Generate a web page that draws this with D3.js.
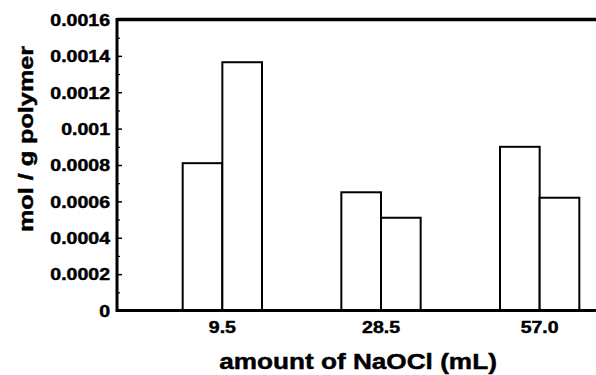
<!DOCTYPE html>
<html>
<head>
<meta charset="utf-8">
<script src="https://cdn.jsdelivr.net/npm/d3@7"></script>
<style>
  html, body { margin: 0; padding: 0; background: #fff; }
  svg { display: block; }
  text { font-family: "Liberation Sans", Arial, Helvetica, sans-serif; font-weight: bold; fill: #000; stroke: #000; stroke-width: 0.45px; }
</style>
</head>
<body>
<script>
// ---- data ----
const categories = ["9.5", "28.5", "57.0"];
const seriesNames = ["first", "second"];
const seriesFirst = [0.00081, 0.00065, 0.00090];
const seriesSecond = [0.001365, 0.00051, 0.00062];
const yTickValues = [0, 0.0002, 0.0004, 0.0006, 0.0008, 0.001, 0.0012, 0.0014, 0.0016];
const yTickLabels = ["0", "0.0002", "0.0004", "0.0006", "0.0008", "0.001", "0.0012", "0.0014", "0.0016"];
const yMinorTicks = [0.0001, 0.0003, 0.0005, 0.0007, 0.0009, 0.0011, 0.0013, 0.0015];
const xTitle = "amount of NaOCl (mL)";
const yTitle = "mol / g polymer";

const W = 596, H = 375;
const plotLeft = 117, plotTop = 19.5, plotBottom = 310.5;

const svg = d3.select("body").append("svg").attr("width", W).attr("height", H);

const y = d3.scaleLinear().domain([0, 0.0016]).range([plotBottom, plotTop]);
const x = d3.scaleBand().domain(categories).range([plotLeft, 645]).paddingInner(0.5).paddingOuter(0.414);
const xs = d3.scaleBand().domain(seriesNames).range([0, x.bandwidth()]);

const rows = categories.map((c, i) => ({ cat: c, vals: [seriesFirst[i], seriesSecond[i]] }));

// bars
const g = svg.append("g");
rows.forEach(r => {
  seriesNames.forEach((s, j) => {
    g.append("rect")
      .attr("x", x(r.cat) + xs(s))
      .attr("y", y(r.vals[j]))
      .attr("width", xs.bandwidth())
      .attr("height", y(0) - y(r.vals[j]))
      .attr("fill", "#fff")
      .attr("stroke", "#000")
      .attr("stroke-width", 2);
  });
});

// y axis (inward ticks)
const yAxis = d3.axisLeft(y).tickValues(yTickValues)
  .tickFormat((d, i) => yTickLabels[i])
  .tickSizeInner(-5).tickSizeOuter(0).tickPadding(7);
const ya = svg.append("g").attr("transform", `translate(${plotLeft},0)`).call(yAxis);
ya.select(".domain").remove();
ya.selectAll(".tick line").attr("stroke", "#000").attr("stroke-width", 1.5);
ya.selectAll(".tick text").each(function() {
  const t = d3.select(this);
  const tx = +t.attr("x");
  t.attr("x", 0).attr("transform", `translate(${tx},0) scale(1.22,1)`)
   .style("font-size", "16px").attr("dy", "0.36em");
});

const yMinor = d3.axisLeft(y).tickValues(yMinorTicks).tickFormat("").tickSizeInner(-3).tickSizeOuter(0);
const ym = svg.append("g").attr("transform", `translate(${plotLeft},0)`).call(yMinor);
ym.select(".domain").remove();
ym.selectAll(".tick line").attr("stroke", "#000").attr("stroke-width", 1.2);

// x axis labels
const xAxis = d3.axisBottom(x).tickSize(0).tickPadding(11);
const xa = svg.append("g").attr("transform", `translate(0,${plotBottom})`).call(xAxis);
xa.select(".domain").remove();
xa.selectAll(".tick text").each(function() {
  const t = d3.select(this);
  const ty = +t.attr("y");
  t.attr("y", 0).attr("transform", `translate(0,${ty}) scale(1.22,1)`)
   .style("font-size", "16px");
});

// frame lines
svg.append("line").attr("x1", plotLeft).attr("x2", W).attr("y1", plotTop).attr("y2", plotTop)
  .attr("stroke", "#000").attr("stroke-width", 3.5);
svg.append("line").attr("x1", plotLeft).attr("x2", W).attr("y1", plotBottom).attr("y2", plotBottom)
  .attr("stroke", "#000").attr("stroke-width", 3);
svg.append("line").attr("x1", plotLeft).attr("x2", plotLeft).attr("y1", plotTop - 1.5).attr("y2", plotBottom + 1.5)
  .attr("stroke", "#000").attr("stroke-width", 3);

// titles
svg.append("text")
  .attr("transform", "translate(358,369) scale(1.19,1)")
  .attr("text-anchor", "middle")
  .style("font-size", "22px")
  .text(xTitle);

svg.append("text")
  .attr("transform", "translate(33,139) rotate(-90) scale(1.2,1)")
  .attr("text-anchor", "middle")
  .style("font-size", "21px")
  .text(yTitle);
</script>
</body>
</html>
